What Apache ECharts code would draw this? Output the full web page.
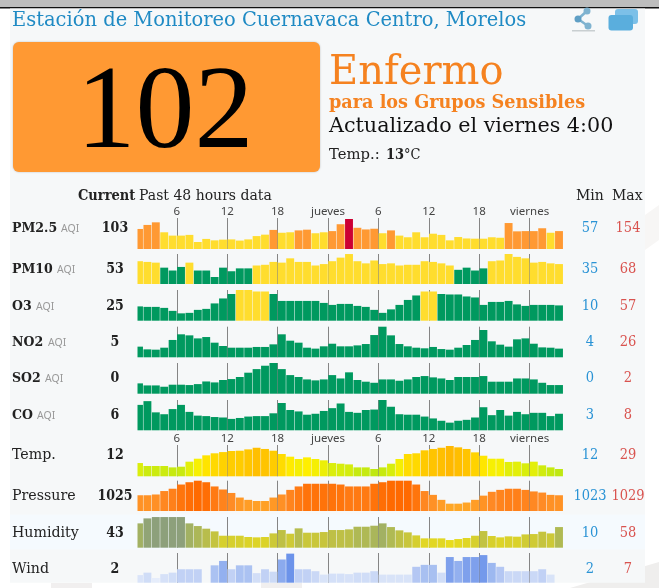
<!DOCTYPE html>
<html>
<head>
<meta charset="utf-8">
<title>Estación de Monitoreo Cuernavaca Centro, Morelos</title>
<style>
html, body { margin: 0; padding: 0; background: #fff; }
#main { width: 659px; height: 588px; }
</style>
<script src="https://cdn.jsdelivr.net/npm/echarts@6/dist/echarts.min.js"></script>
</head>
<body>
<div id="main"></div>
<script>
// data, oldest hour first
let pm25 = [112,129,140,98,84,84,87,57,70,64,67,68,63,68,82,88,108,96,98,106,109,94,98,103,132,154,117,110,113,94,106,84,77,98,77,92,87,64,78,72,71,71,77,75,137,102,103,103,115,96,103];
let pm10 = [57,56,55,48,44,49,55,44,44,35,48,43,47,47,51,52,56,55,61,56,56,51,53,57,62,67,57,54,58,53,54,51,52,52,57,56,54,51,45,48,44,47,57,58,68,63,61,55,56,54,53];
let o3 = [24,23,23,21,15,10,11,17,19,30,40,49,57,57,54,54,49,35,35,35,35,35,31,27,29,29,25,23,17,11,18,27,37,46,54,54,49,48,48,44,42,27,33,33,35,28,25,27,27,27,26];
let no2 = [6.9,4.3,4,5.9,13.3,18.7,17.7,14.8,16.1,10.7,7.5,5.9,5.9,5.9,6.6,6.6,9.1,18.7,12.6,10.7,5.9,5,7.2,9.7,7.2,7.2,8.1,9.4,18,26,17.7,9.4,7.2,5.9,5.3,6.6,4.6,4,5.9,8.5,13.3,22.8,12,8.8,6.9,13.9,14.8,9.7,6.2,5.9,5];
let so2 = [.28,.11,.11,0,.17,.17,.14,.22,.44,.36,.56,.64,.81,1.17,1.47,1.75,2,1.47,.97,.81,.61,.53,.61,.97,.69,1.2,.56,.42,.33,.61,.61,.5,.61,.81,.89,.78,.69,.56,.81,.81,.81,.89,.42,.42,.42,.69,.69,.61,.33,.14,.14];
let co = [6.8,7.6,5.2,4.8,5.9,6.8,5.3,4.5,4.4,4.2,4.1,3.8,4,4.3,4.4,4.4,5,7.2,5.7,5.4,4.7,4.9,5.5,6.1,7.1,5.3,5.1,5.7,5.8,8,6.4,4.8,4.7,4.7,4.3,3.9,3.4,3,3.4,3.6,4.1,6.3,4.6,5.7,4.5,5.3,4.8,5.1,5.1,4.4,4.9];
let temp = [16.4,14.2,14.2,14.2,13.2,13.7,17.4,19.6,22.1,23.6,24.5,25.3,25.5,26.5,27.7,26.8,25.5,23.1,21.1,19.4,20.6,19.4,18.4,16.4,15.9,15.4,13.2,13.2,12,13.2,15.9,19.4,23.1,23.6,25.8,26.8,27.7,29,28,26.8,24.3,21.8,19.6,19.6,17.2,17.4,16.2,17.4,14.7,13.2,12];
let pressure = [1025.2,1025.2,1025.4,1026.3,1026.9,1028,1028.6,1029,1028.6,1027.5,1026.7,1025.8,1024.6,1024,1023.7,1023.7,1024.6,1025.4,1026.6,1027.5,1028.2,1028.2,1028.2,1028.2,1028,1027.5,1027.5,1027.5,1028.2,1028.6,1029,1029,1029,1028,1026.3,1025.3,1024,1023,1023,1023.3,1024,1025.1,1026.1,1026.6,1026.9,1026.9,1026.6,1026.2,1025.9,1025.3,1025.2];
let humidity = [44.8,55.2,58,58,58,58,44.8,39.2,33.7,28.1,19,19,19,16.3,15.6,16.3,23.9,30.9,23.2,34.4,25.3,25.3,26.7,30.9,30.9,32.3,37.8,37.8,39.9,44.8,37.1,30.2,26,19.7,13.5,13.5,13.5,10,12.1,14.2,19,28.8,18.4,15.6,17.7,17,21.8,22.5,27.4,23.9,37.1];
let wind = [2.6,3.1,2,2.8,3.1,3.8,3.8,3.8,null,4.6,5.5,3.8,4.6,4.6,3,3.8,3.3,5.8,7,3.8,3.8,3.4,2.7,2.9,2.9,2.8,3.1,3.1,3.4,2.7,2.7,2.7,2.7,4.3,4.7,4.7,3.1,6.3,5.5,6.3,6.3,6.7,5.1,4.3,3.4,3.4,3.4,3.4,3.8,2.7,null];

let rowNames = ['PM2.5', 'PM10', 'O3', 'NO2', 'SO2', 'CO', 'Temp.', 'Pressure', 'Humidity', 'Wind'];
let currentValues = ['103', '53', '25', '5', '0', '6', '12', '1025', '43', '2'];
let minValues = ['57', '35', '10', '4', '0', '3', '12', '1023', '10', '2'];
let maxValues = ['154', '68', '57', '26', '2', '8', '29', '1029', '58', '7'];
let tickHours = [6, 12, 18, 24, 30, 36, 42, 48];
let tickLabels = { 6: '6', 12: '12', 18: '18', 24: 'jueves', 30: '6', 36: '12', 42: '18', 48: 'viernes' };

let allRows = [pm25, pm10, o3, no2, so2, co, temp, pressure, humidity, wind];

// layout of each row, in pixels
let rowTop = [218, 254, 290, 326.7, 363, 400, 445, 480.7, 517, 553];
let rowBase = [249, 284, 320.7, 357.3, 393.7, 430.3, 476.3, 511, 547.7, 582.7];
let rowMin = [27.5, 25.2, -4.8, -3.3, -.58, 1.36, 6.6, 1021.09, -6, 1.04];
let rowPerPx = [4.218, 1.395, 2.013, .957, .0833, .214, .739, .261, 2.088, .205];
let labelY = [228, 269, 306, 342.5, 378, 415, 455, 496, 533, 569];

let serif = '"DejaVu Serif", serif';
let sans = '"Noto Sans", sans-serif';
let barWidth = 7.9;
let myChart = echarts.init(document.getElementById('main'));

// bars grow from the bottom of the row, not from zero, and the first one is cut by the grid
function renderBar(rowIndex) {
    return function (params, api) {
        let v = api.value(1);
        if (isNaN(v)) return;
        let top = api.coord([api.value(0), v]);
        let base = api.coord([api.value(0), rowMin[rowIndex]]);
        let shape = echarts.graphic.clipRectByRect({
            x: top[0] - barWidth / 2,
            y: top[1],
            width: barWidth,
            height: base[1] - top[1]
        }, params.coordSys);
        if (!shape) return;
        return { type: 'rect', shape: shape, style: { fill: api.visual('color') } };
    };
}

let grids = [], xAxes = [], yAxes = [], series = [];
allRows.forEach(function (values, i) {
    grids.push({ left: 137.5, width: 425.7, top: rowTop[i], height: rowBase[i] - rowTop[i] });
    xAxes.push({
        type: 'value',
        gridIndex: i,
        position: 'top',
        min: 1.32,
        max: 52,
        splitLine: { show: false },
        axisLine: { show: false, onZero: false },
        axisTick: {
            show: true,
            inside: true,
            customValues: tickHours,
            length: rowBase[i] - rowTop[i],
            lineStyle: { color: '#858585', width: 1 }
        },
        axisLabel: {
            show: i === 0 || i === 6,
            customValues: tickHours,
            margin: 0,
            fontFamily: sans,
            fontSize: 11.5,
            color: '#444',
            formatter: function (v) { return tickLabels[v]; }
        }
    });
    yAxes.push({
        type: 'value',
        gridIndex: i,
        show: false,
        min: rowMin[i],
        max: rowMin[i] + rowPerPx[i] * (rowBase[i] - rowTop[i])
    });
    series.push({
        name: rowNames[i],
        type: 'custom',
        xAxisIndex: i,
        yAxisIndex: i,
        encode: { x: 0, y: 1 },
        renderItem: renderBar(i),
        animation: false,
        data: values.map(function (v, k) { return [k + 1.5, v]; })
    });
});

let aqiPieces = [
    { lte: 50, color: '#00995f' },
    { gt: 50, lte: 100, color: '#ffdd2e' },
    { gt: 100, lte: 150, color: '#ff9933' },
    { gt: 150, color: '#cc0033' }
];

let texts = [];
function addText(str, x, y, size, color, opt) {
    texts.push(Object.assign({
        type: 'text',
        z: 10,
        x: x,
        y: y,
        style: Object.assign({
            text: str,
            fontFamily: serif,
            fontSize: size,
            fill: color,
            textAlign: 'left',
            textVerticalAlign: 'middle'
        }, opt && opt.style)
    }, opt && opt.el));
}

rowNames.forEach(function (name, i) {
    let aqi = i < 6;
    addText(name, 12, labelY[i], aqi ? 13.5 : 14.2, '#222', { style: { fontWeight: aqi ? 'bold' : 'normal' }, el: { scaleX: aqi ? .93 : 1 } });
    addText(currentValues[i], 115, labelY[i], 14, '#222', { style: { fontWeight: 'bold', textAlign: 'center' }, el: { scaleX: .9 } });
    addText(minValues[i], 590, labelY[i], 14, '#2a93d5', { style: { textAlign: 'center' }, el: { scaleX: .93 } });
    addText(maxValues[i], 628, labelY[i], 14, '#d9534f', { style: { textAlign: 'center' }, el: { scaleX: .93 } });
});
// small AQI tags after the pollutant names
let aqiX = [61, 57, 36, 48, 45, 37];
aqiX.forEach(function (x, i) {
    addText('AQI', x, labelY[i] + 1, 10.5, '#999', { style: { fontFamily: sans } });
});

addText('Current', 78, 196, 14, '#222', { style: { fontWeight: 'bold' }, el: { scaleX: .93 } });
addText('Past 48 hours data', 139, 196, 14, '#222');
addText('Min', 576, 196, 14, '#222');
addText('Max', 612, 196, 14, '#222');

addText('Estación de Monitoreo Cuernavaca Centro, Morelos', 12, 21, 20, '#1f8ac4', { el: { scaleX: .973 } });
addText('102', 165, 116, 118, '#000', { style: { fontFamily: '"Liberation Serif", serif', textAlign: 'center' } });
addText('Enfermo', 329, 73, 41, '#f58220', { el: { scaleX: .975 } });
addText('para los Grupos Sensibles', 329, 103, 18, '#f58220', { style: { fontWeight: 'bold' }, el: { scaleX: .98 } });
addText('Actualizado el viernes 4:00', 329, 127, 21, '#111', { el: { scaleX: .985 } });
addText('Temp.: ', 329, 155, 14.8, '#222');
addText('13', 386, 155, 14, '#222', { style: { fontWeight: 'bold' }, el: { scaleX: .93 } });
addText('°C', 404, 155, 14, '#222', { el: { scaleX: .93 } });

let shapes = [
    // page furniture behind the chart
    { type: 'rect', z: -10, shape: { x: 0, y: 0, width: 659, height: 7 }, style: { fill: '#bdbdbd' } },
    { type: 'rect', z: -9, shape: { x: 0, y: 7, width: 659, height: 1.5 }, style: { fill: '#111' } },
    { type: 'polygon', z: -10, shape: { points: [[570, 588], [659, 562], [659, 588]] }, style: { fill: '#efeeed' } },
    { type: 'polygon', z: -10, shape: { points: [[645, 215], [659, 205], [659, 240], [645, 250]] }, style: { fill: '#f7f6f5' } },
    { type: 'rect', z: -10, shape: { x: 51, y: 583, width: 41, height: 5 }, style: { fill: '#f1efef' } },
    { type: 'rect', z: -10, shape: { x: 261, y: 583, width: 41, height: 5 }, style: { fill: '#f1efef' } },
    { type: 'rect', z: -8, shape: { x: 10, y: 8.5, width: 635, height: 574.2 }, style: { fill: '#f6f8f9' } },
    { type: 'rect', z: -7, shape: { x: 10, y: 514.5, width: 635, height: 35 }, style: { fill: '#f5fafe' } },
    // orange index box
    { type: 'rect', z: 1, shape: { x: 13, y: 42, width: 307, height: 130, r: 6 }, style: { fill: '#ff9933', shadowBlur: 2, shadowColor: 'rgba(0,0,0,.25)' } },
    // share icon
    { type: 'rect', z: 1, shape: { x: 572, y: 30, width: 23, height: 1.5 }, style: { fill: '#c9cfd1' } },
    { type: 'polyline', z: 1, shape: { points: [[587, 11], [578, 19], [588, 26]] }, style: { stroke: '#7fb3d0', lineWidth: 2.5, fill: null } },
    { type: 'circle', z: 2, shape: { cx: 587, cy: 11, r: 3.5 }, style: { fill: '#7fb3d0' } },
    { type: 'circle', z: 2, shape: { cx: 578, cy: 19, r: 3.5 }, style: { fill: '#5f9fc5' } },
    { type: 'circle', z: 2, shape: { cx: 588, cy: 26, r: 3.5 }, style: { fill: '#7fb3d0' } },
    // copy icon
    { type: 'rect', z: 1, shape: { x: 615, y: 9, width: 23, height: 15, r: 3 }, style: { fill: '#7cc0e8' } },
    { type: 'rect', z: 2, shape: { x: 608.5, y: 15, width: 24.5, height: 15.5, r: 3 }, style: { fill: '#5aaedd' } }
];

let option = {
    backgroundColor: '#fff',
    animation: false,
    grid: grids,
    xAxis: xAxes,
    yAxis: yAxes,
    series: series,
    visualMap: [
        { type: 'piecewise', show: false, dimension: 1, seriesIndex: [0, 1, 2, 3, 4, 5], pieces: aqiPieces },
        { type: 'continuous', show: false, dimension: 1, seriesIndex: 6, min: 12, max: 29, inRange: { color: ['#bfe812', '#d9ee0c', '#fff000', '#ffd000', '#ffb800'] } },
        { type: 'continuous', show: false, dimension: 1, seriesIndex: 7, min: 1023, max: 1029, inRange: { color: ['#ffa726', '#ff8a25', '#ff6a00'] } },
        { type: 'continuous', show: false, dimension: 1, seriesIndex: 8, min: 10, max: 58, inRange: { color: ['#e8dc1c', '#c8c63c', '#a6b45e', '#8da07b'] } },
        { type: 'continuous', show: false, dimension: 1, seriesIndex: 9, min: 2, max: 7, inRange: { color: ['#e6edfb', '#c5d4f5', '#97b3ef', '#6c93ea'] } }
    ],
    graphic: { elements: shapes.concat(texts) }
};
myChart.setOption(option);
</script>
</body>
</html>
